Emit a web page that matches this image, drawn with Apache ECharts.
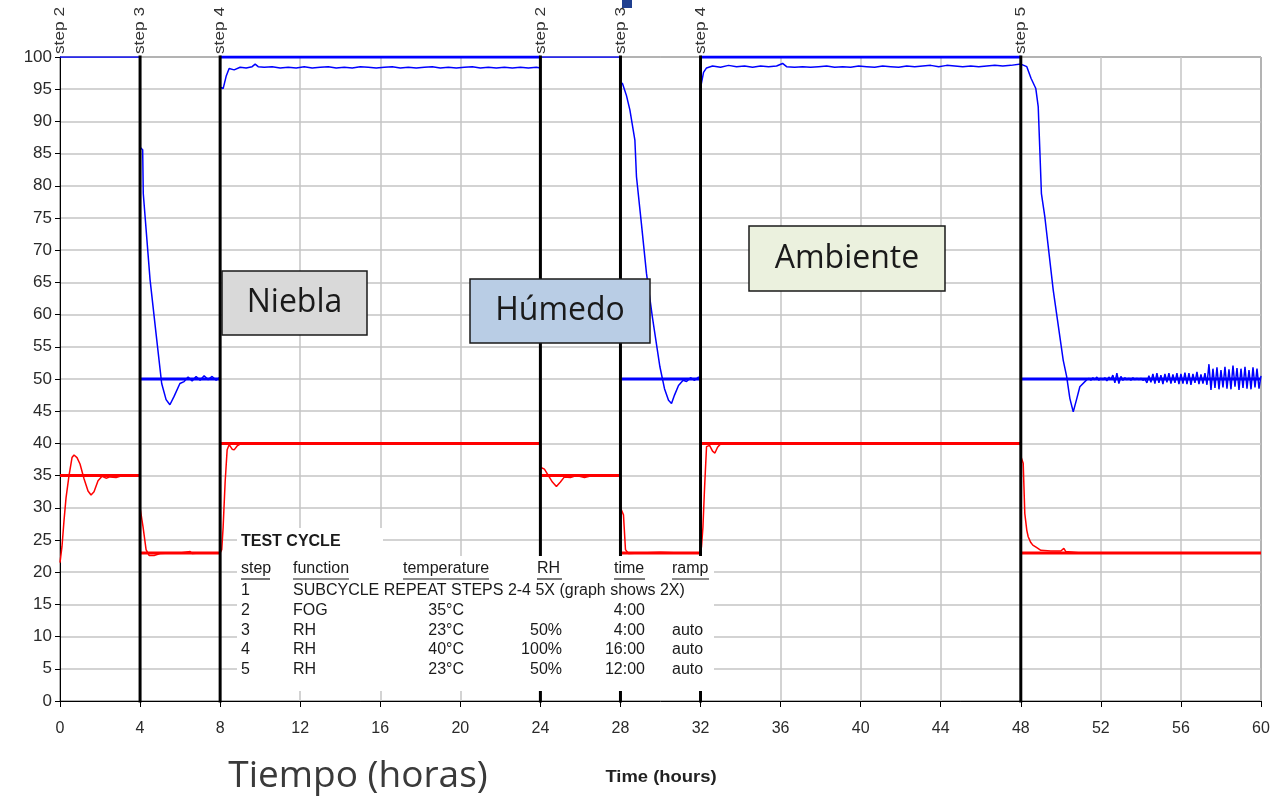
<!DOCTYPE html>
<html>
<head>
<meta charset="utf-8">
<script src="https://cdn.jsdelivr.net/npm/echarts@6/dist/echarts.min.js"></script>
<style>
html,body{margin:0;padding:0;background:#fff;}
#chart{width:1282px;height:799px;}
</style>
</head>
<body>
<div id="chart"></div>
<script>
// ---- DATA ----
const stepStart = [0, 4, 8, 24, 28, 32, 48];
const stepEnd   = [4, 8, 24, 28, 32, 48, 60];
const stepNames = ['step 2', 'step 3', 'step 4', 'step 2', 'step 3', 'step 4', 'step 5'];
const rhSetpoint   = [null, 50, 100, null, 50, 100, 50];
const tempSetpoint = [35, 23, 40, 35, 23, 40, 23];
const stepLinesAt  = [4, 8, 24, 28, 32, 48];

const tempMeasured = [
  [0.0,21.5],[0.1,24],[0.2,28],[0.3,31.5],[0.45,35],[0.6,37.8],[0.7,38.2],[0.85,37.8],[1.0,36.8],
  [1.2,34.5],[1.4,32.6],[1.55,32.0],[1.7,32.5],[1.9,34.2],[2.1,34.9],[2.3,34.6],[2.5,34.8],[2.8,34.7],
  [3.0,34.9],[3.4,35.0],[4.0,35.0],
  [4.0,30],[4.15,27],[4.3,23.5],[4.45,22.6],[4.7,22.6],[5.0,22.9],[5.5,23.0],[6.0,23.0],[6.5,23.2],
  [6.6,22.9],[7.0,23.0],[8.0,23.0],
  [8.08,23.5],[8.15,27],[8.25,34],[8.35,39],[8.45,39.8],[8.6,39.1],[8.7,39.0],[8.85,39.6],[9.0,39.9],
  [9.5,40],[16,40],[24,40],
  [24.0,36.3],[24.2,36],[24.4,35],[24.6,34],[24.8,33.3],[25.0,34],[25.2,34.8],[25.5,34.7],[25.8,35],
  [26.2,34.7],[26.6,35],[27,35],[28,35],
  [28.0,30],[28.15,28.9],[28.25,23.5],[28.4,22.9],[29,23],[30,23.1],[31,23],[32,23],
  [32.05,24],[32.12,27],[32.2,33],[32.3,39.5],[32.45,39.7],[32.6,38.8],[32.72,38.5],[32.85,39.4],
  [33,39.9],[33.5,40],[40,40],[48,40],
  [48.0,38],[48.12,36.9],[48.2,29.1],[48.3,26.5],[48.37,25.5],[48.5,24.6],[48.6,24.2],[48.8,23.8],
  [49.0,23.4],[49.5,23.3],[50.0,23.3],[50.15,23.7],[50.25,23.2],[51,23.0],[55,23.0],[60,23.0]
];

const rhMeasured = [
  [0,100],[4,100],
  [4.0,86],[4.13,85.6],[4.16,78.8],[4.5,65.4],[4.8,57],[5.08,49.3],[5.3,46.8],[5.49,46.0],[5.7,47.3],
  [5.99,49.3],[6.2,49.6],[6.4,50.3],[6.6,49.7],[6.8,50.4],[7.0,49.8],[7.2,50.5],[7.4,49.9],[7.6,50.4],
  [7.8,49.8],[8.0,50.3],
  [8.0,95.3],[8.15,95.1],[8.3,97.0],[8.45,98.2],[8.7,98.0],[9.0,98.4],[9.3,98.3],[9.6,98.5],[9.75,98.9],
  [9.9,98.5],[10.2,98.4],[10.6,98.5],[11,98.3],[11.4,98.4],[11.8,98.3],[12.2,98.5],[12.6,98.3],[13,98.4],
  [13.4,98.5],[13.8,98.3],[14.2,98.4],[14.6,98.3],[15,98.5],[15.4,98.4],[15.8,98.3],[16.2,98.4],[16.6,98.5],
  [17,98.3],[17.4,98.4],[17.8,98.3],[18.2,98.4],[18.6,98.5],[19,98.3],[19.4,98.4],[19.8,98.3],[20.2,98.4],
  [20.6,98.5],[21,98.3],[21.4,98.4],[21.8,98.3],[22.2,98.4],[22.6,98.3],[23,98.4],[23.4,98.3],[23.8,98.4],
  [24.0,98.3],
  [24.0,100],[28,100],
  [28.0,96],[28.1,95.9],[28.3,94],[28.47,91.8],[28.72,87.1],[28.8,81.4],[29.05,74],[29.3,66.4],[29.6,59.5],
  [29.97,51.9],[30.2,48.5],[30.4,46.7],[30.55,46.2],[30.7,47.5],[30.9,49],[31.13,49.8],[31.3,49.6],
  [31.5,50.2],[31.7,49.8],[31.9,50.3],[32,50],
  [32.0,95.2],[32.15,97.6],[32.3,98.3],[32.6,98.6],[33,98.4],[33.4,98.7],[33.8,98.5],[34.2,98.6],[34.6,98.4],
  [35,98.6],[35.4,98.5],[35.8,98.6],[36.1,99.0],[36.3,98.5],[36.7,98.4],[37.1,98.5],[37.5,98.4],[37.9,98.5],
  [38.3,98.6],[38.7,98.4],[39.1,98.5],[39.5,98.4],[39.9,98.6],[40.3,98.5],[40.7,98.4],[41.1,98.6],[41.5,98.5],
  [41.9,98.4],[42.3,98.6],[42.7,98.5],[43.1,98.6],[43.5,98.7],[43.9,98.5],[44.3,98.7],[44.7,98.6],[45.1,98.5],
  [45.5,98.6],[45.9,98.5],[46.3,98.6],[46.7,98.7],[47.1,98.6],[47.5,98.7],[48.0,98.9],
  [48.05,99],[48.3,98.5],[48.51,96.7],[48.75,95.1],[48.87,92.3],[48.95,85.6],[49.03,78.8],[49.2,75.2],
  [49.62,63.8],[50.12,52.9],[50.29,50.4],[50.45,47],[50.62,44.9],[50.8,47],[50.95,48.8],[51.3,49.9],
  [51.4,50.1],[51.5,49.8],[51.6,50.2],[51.7,49.9],[51.8,50.3],[51.9,49.8],[52.0,50.1],[52.1,49.9],[52.2,50.2],
  [52.3,49.7],[52.4,50.3],[52.5,49.9],[52.6,50.6],[52.7,49.4],[52.8,50.9],[52.9,49.3],[53.0,50.4],[53.1,49.8],
  [53.2,50.2],[53.3,49.9],[53.4,50.1],[53.5,49.8],[53.6,50.2],[53.7,49.9],[53.8,50.1],[53.9,49.9],[54.0,50.1],
  [54.1,49.8],[54.2,50.0],[54.3,49.4],[54.4,50.5],[54.5,49.5],[54.6,50.8],[54.7,49.3],[54.8,50.9],[54.9,49.4],
  [55.0,50.6],[55.1,49.2],[55.2,50.8],[55.3,49.5],[55.4,50.9],[55.5,49.3],[55.6,50.7],[55.7,49.4],[55.8,50.9],
  [55.9,49.2],[56.0,50.8],[56.1,49.3],[56.2,51.0],[56.3,49.2],[56.4,50.9],[56.5,49.1],[56.6,50.8],[56.7,49.4],
  [56.8,51.1],[56.9,49.2],[57.0,50.7],[57.1,49.3],[57.2,50.9],[57.3,49.1],[57.4,52.3],[57.5,48.3],[57.6,51.6],
  [57.7,48.6],[57.8,51.8],[57.9,48.4],[58.0,51.4],[58.1,48.7],[58.2,51.9],[58.3,48.5],[58.4,51.5],[58.5,48.4],
  [58.6,52.1],[58.7,48.8],[58.8,51.7],[58.9,48.3],[59.0,51.6],[59.1,48.6],[59.2,51.9],[59.3,48.5],[59.4,51.4],
  [59.5,48.4],[59.6,51.8],[59.7,48.7],[59.8,51.6],[59.9,48.5],[60.0,50.5]
];

const xMin = 0, xMax = 60, xInterval = 4;
const yMin = 0, yMax = 100, yInterval = 5;

const tableRows = [
  ['1', 'SUBCYCLE REPEAT STEPS 2-4 5X (graph shows 2X)', '', '', '', ''],
  ['2', 'FOG', '35°C', '', '4:00', ''],
  ['3', 'RH', '23°C', '50%', '4:00', 'auto'],
  ['4', 'RH', '40°C', '100%', '16:00', 'auto'],
  ['5', 'RH', '23°C', '50%', '12:00', 'auto']
];
const tableHeaders = ['step', 'function', 'temperature', 'RH', 'time', 'ramp'];

// ---- BUILD ----
function segSeries(values) {
  const out = [];
  for (let i = 0; i < stepStart.length; i++) {
    if (values[i] === null) { out.push([stepStart[i], null]); continue; }
    out.push([stepStart[i], values[i]]);
    out.push([stepEnd[i], values[i]]);
    out.push([stepEnd[i], null]);
  }
  return out;
}
const stepLineData = [];
stepLinesAt.forEach(t => { stepLineData.push([t, yMin - 2], [t, yMax + 2], [t, null]); });

const chart = echarts.init(document.getElementById('chart'), null, {renderer: 'canvas'});
const FONT = '"Liberation Sans", Arial, sans-serif';

chart.setOption({
  animation: false,
  backgroundColor: '#ffffff',
  grid: {left: 60, right: 21, top: 57, bottom: 98, show: true, borderColor: '#000', borderWidth: 1},
  xAxis: {
    type: 'value', min: xMin, max: xMax, interval: xInterval,
    axisLine: {lineStyle: {color: '#000', width: 1}},
    axisTick: {show: true, length: 6, lineStyle: {color: '#000'}},
    axisLabel: {fontFamily: FONT, fontSize: 16, color: '#2a2a2a', margin: 20},
    splitLine: {show: true, lineStyle: {color: '#c4c4c4', width: 1.5}}
  },
  yAxis: {
    type: 'value', min: yMin, max: yMax, interval: yInterval,
    axisLine: {show: true, lineStyle: {color: '#000', width: 1}},
    axisTick: {show: true, length: 5, lineStyle: {color: '#000'}},
    axisLabel: {fontFamily: FONT, fontSize: 17, color: '#2a2a2a', margin: 8},
    splitLine: {show: true, lineStyle: {color: '#c4c4c4', width: 1.5}}
  },
  series: [
    {name: 'RH measured', type: 'line', data: rhMeasured, showSymbol: false, connectNulls: false,
     lineStyle: {color: '#0000ff', width: 1.5}, z: 3},
    {name: 'Temp measured', type: 'line', data: tempMeasured, showSymbol: false,
     lineStyle: {color: '#ff0000', width: 1.5}, z: 3},
    {name: 'RH setpoint', type: 'line', data: segSeries(rhSetpoint), showSymbol: false, connectNulls: false,
     lineStyle: {color: '#0000ff', width: 3}, z: 4},
    {name: 'Temp setpoint', type: 'line', data: segSeries(tempSetpoint), showSymbol: false, connectNulls: false,
     lineStyle: {color: '#ff0000', width: 3}, z: 4},
    {name: 'Steps', type: 'line', data: stepLineData, showSymbol: false, connectNulls: false,
     lineStyle: {color: '#000', width: 3}, z: 5}
  ]
});

// ---- ANNOTATIONS ----
const g = [];
stepStart.forEach((t, i) => {
  const px = chart.convertToPixel({xAxisIndex: 0}, t);
  g.push({type: 'text', x: px, y: 54, rotation: Math.PI / 2, scaleX: 1.15, z: 20,
    style: {text: stepNames[i], fontFamily: FONT, fontSize: 15, fill: '#333', align: 'left', verticalAlign: 'middle'}});
});

// table white background
g.push({type: 'rect', shape: {x: 237, y: 528, width: 146, height: 30}, style: {fill: '#fff'}, z: 10});
g.push({type: 'rect', shape: {x: 237, y: 556, width: 477, height: 135}, style: {fill: '#fff'}, z: 10});
const tStyle = (txt, extra) => Object.assign({text: txt, fontFamily: FONT, fontSize: 16, fill: '#1a1a1a', verticalAlign: 'middle'}, extra || {});
g.push({type: 'text', x: 241, y: 542, z: 11, style: tStyle('TEST CYCLE', {fontWeight: 'bold', fontSize: 16, align: 'left'})});
const hdrX = [241, 293, 403, 537, 614, 672];
const hdrW = [29, 56, 86, 25, 31, 37];
tableHeaders.forEach((h, i) => {
  g.push({type: 'text', x: hdrX[i], y: 569, z: 11, style: tStyle(h, {align: 'left'})});
  g.push({type: 'line', z: 11, shape: {x1: hdrX[i], y1: 579, x2: hdrX[i] + hdrW[i], y2: 579}, style: {stroke: '#1a1a1a', lineWidth: 1.2}});
});
const rowY = [591, 611, 631, 650, 670];
tableRows.forEach((r, j) => {
  const y = rowY[j];
  g.push({type: 'text', x: 241, y: y, z: 11, style: tStyle(r[0], {align: 'left'})});
  g.push({type: 'text', x: 293, y: y, z: 11, style: tStyle(r[1], {align: 'left'})});
  if (r[2]) g.push({type: 'text', x: 464, y: y, z: 11, style: tStyle(r[2], {align: 'right'})});
  if (r[3]) g.push({type: 'text', x: 562, y: y, z: 11, style: tStyle(r[3], {align: 'right'})});
  if (r[4]) g.push({type: 'text', x: 645, y: y, z: 11, style: tStyle(r[4], {align: 'right'})});
  if (r[5]) g.push({type: 'text', x: 672, y: y, z: 11, style: tStyle(r[5], {align: 'left'})});
});

// label boxes
const BOXFONT = '"Open Sans", "Noto Sans", sans-serif';
function box(x, y, w, h, fill, txt) {
  g.push({type: 'rect', z: 15, shape: {x: x, y: y, width: w, height: h}, style: {fill: fill, stroke: '#1a1a1a', lineWidth: 1.5}});
  g.push({type: 'text', z: 16, x: x + w / 2, y: y + h / 2, style: {text: txt, fontFamily: BOXFONT, fontSize: 32, fill: '#1a1a1a', align: 'center', verticalAlign: 'middle'}});
}
box(222, 271, 145, 64, '#d9d9d9', 'Niebla');
box(470, 279, 180, 64, '#b9cde5', 'Húmedo');
box(749, 226, 196, 65, '#ebf1de', 'Ambiente');

// axis titles
g.push({type: 'text', z: 16, x: 358, y: 776, style: {text: 'Tiempo (horas)', fontFamily: BOXFONT, fontSize: 37, fill: '#3a3a3a', align: 'center', verticalAlign: 'middle'}});
g.push({type: 'text', z: 16, x: 661, y: 778, scaleX: 1.15, style: {text: 'Time (hours)', fontFamily: FONT, fontSize: 16, fontWeight: 'bold', fill: '#222', align: 'center', verticalAlign: 'middle'}});
// small clipped mark at top
g.push({type: 'rect', z: 16, shape: {x: 622, y: 0, width: 10, height: 8}, style: {fill: '#1f3f8f'}});

chart.setOption({graphic: g});
</script>
</body>
</html>
